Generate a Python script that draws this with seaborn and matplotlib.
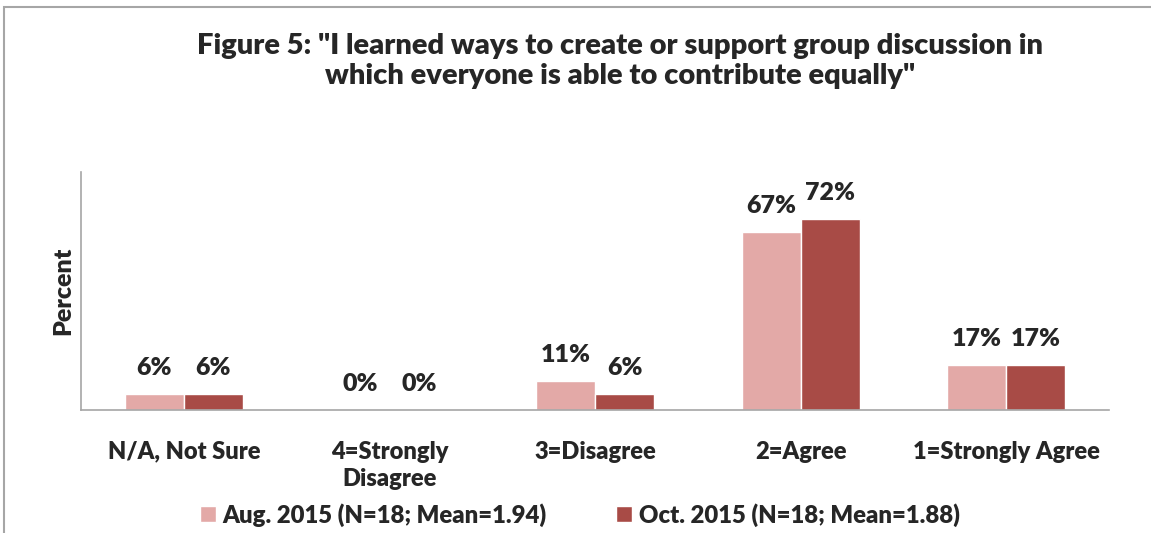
import matplotlib
matplotlib.use("Agg")
import matplotlib.pyplot as plt
import seaborn as sns
import pandas as pd
from matplotlib.patches import Rectangle

categories = ["N/A, Not Sure", "4=Strongly\nDisagree", "3=Disagree", "2=Agree", "1=Strongly Agree"]
series_names = ["Aug. 2015 (N=18; Mean=1.94)", "Oct. 2015 (N=18; Mean=1.88)"]
aug_values = [6, 0, 11, 67, 17]
oct_values = [6, 0, 6, 72, 17]
colors = ["#E3A9A7", "#A84B46"]
title = 'Figure 5: "I learned ways to create or support group discussion in\nwhich everyone is able to contribute equally"'

df = pd.DataFrame({
    "category": categories * 2,
    "series": [series_names[0]] * len(categories) + [series_names[1]] * len(categories),
    "value": aug_values + oct_values,
})

sns.set_theme(style="white")
plt.rcParams["font.family"] = ["Lato", "DejaVu Sans"]
W = "heavy"

fig = plt.figure(figsize=(11.51, 5.33), dpi=100)
ax = fig.add_axes([81 / 1151, 1 - 410 / 533, (1109 - 81) / 1151, (410 - 172) / 533])

sns.barplot(data=df, x="category", y="value", hue="series", order=categories,
            hue_order=series_names, palette=colors, width=0.574, gap=0,
            saturation=1, ax=ax, legend=True)

ax.set_ylim(0, 89.7)
ax.set_yticks([])
ax.set_xlabel("")
ax.set_ylabel("Percent", fontsize=18, fontweight=W, labelpad=5)
ax.tick_params(axis="x", length=0, pad=22, labelsize=17)
for lab in ax.get_xticklabels():
    lab.set_fontweight(W)
    lab.set_linespacing(1.3)
    lab.set_verticalalignment("top")

for side in ["top", "right"]:
    ax.spines[side].set_visible(False)
for side in ["left", "bottom"]:
    ax.spines[side].set_color("#A6A6A6")
    ax.spines[side].set_linewidth(1.2)

for cont in ax.containers:
    ax.bar_label(cont, labels=[f"{v:.0f}%" for v in cont.datavalues],
                 padding=11, fontsize=18, fontweight=W)

handles, labels = ax.get_legend_handles_labels()
ax.legend(handles, labels, loc="center", ncol=2,
          frameon=False, fontsize=17.2, handlelength=0.67, handleheight=0.67,
          handletextpad=0.3, columnspacing=2.9)
leg = ax.get_legend()
leg.set_bbox_to_anchor((580 / 1151, 1 - 515 / 533), transform=fig.transFigure)
for t in leg.get_texts():
    t.set_fontweight(W)

fig.text(620 / 1151, 1 - 61 / 533, title, ha="center", va="center",
         fontsize=21, fontweight=W, linespacing=1.2)

fig.patches.append(Rectangle((4 / 1151, -0.1), 1.2, 1 - 7 / 533 + 0.1,
                             transform=fig.transFigure, fill=False,
                             edgecolor="#A6A6A6", linewidth=1.5))

fig.savefig("out.png", dpi=100)
